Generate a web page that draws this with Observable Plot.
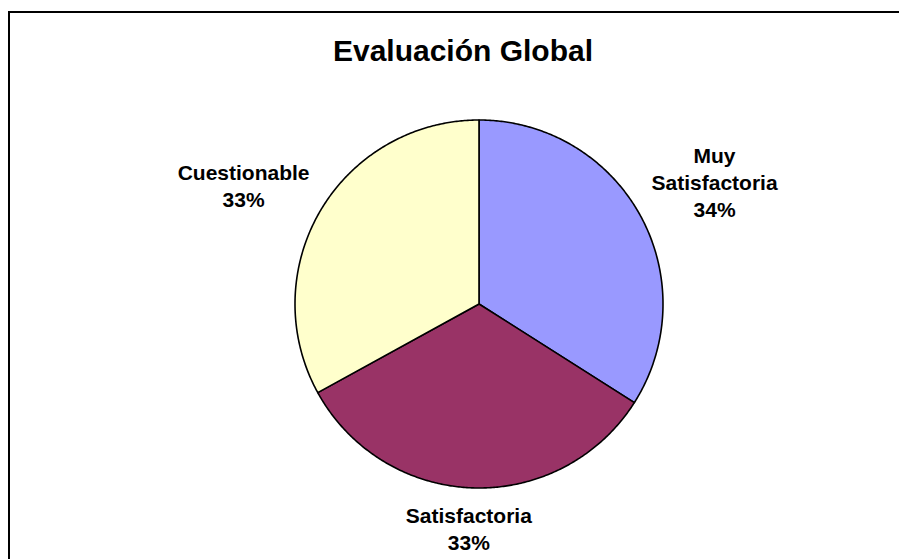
<!DOCTYPE html>
<html>
<head>
<meta charset="utf-8">
<script src="https://cdn.jsdelivr.net/npm/d3@7"></script>
<script src="https://cdn.jsdelivr.net/npm/@observablehq/plot@0.6"></script>
<style>
  html, body { margin: 0; padding: 0; background: #fff; overflow: hidden; width: 899px; height: 559px; }
  #frame { position: absolute; left: 8px; top: 11px; width: 1000px; height: 700px;
           border-left: 2px solid #000; border-top: 2px solid #000; }
  #title { position: absolute; left: 0; top: 36px; width: 926px; text-align: center;
           font: bold 30px/30px "Liberation Sans", Arial, sans-serif; color: #000; }
  #chart { position: absolute; left: 0; top: 80px; }
</style>
</head>
<body>
<div id="frame"></div>
<div id="title">Evaluación Global</div>
<div id="chart"></div>
<script>
// Overall evaluation shares (percent)
const categories = ["Muy Satisfactoria", "Satisfactoria", "Cuestionable"];
const percents = [34, 33, 33];
const labelNames = ["Muy\nSatisfactoria", "Satisfactoria", "Cuestionable"];
const sliceColors = ["#9999FF", "#993366", "#FFFFCC"];

const W = 899, H = 479;
const cx = 478.5, cy = 223.5, R = 184;
const FONT = 21, LINE = 27;
const fontFamily = '"Liberation Sans", Arial, sans-serif';

// Slice angles: start at 12 o'clock, clockwise, in the given order
const arcs = d3.pie().sort(null).value(d => d)(percents);

// Outline of each slice in unit-circle coordinates (y up)
const outline = [];
arcs.forEach((a, i) => {
  const name = categories[i];
  outline.push({name, x: 0, y: 0});
  const steps = Math.max(2, Math.ceil((a.endAngle - a.startAngle) / (Math.PI / 360)));
  for (let k = 0; k <= steps; ++k) {
    const t = a.startAngle + (a.endAngle - a.startAngle) * k / steps;
    outline.push({name, x: Math.sin(t), y: Math.cos(t)});
  }
  outline.push({name, x: 0, y: 0});
});

// Label blocks sit outside the rim, pushed outward along each slice's mid-angle
const ctx = document.createElement("canvas").getContext("2d");
ctx.font = `bold ${FONT}px ${fontFamily}`;
const clamp = v => Math.max(-1, Math.min(1, v));
const labels = arcs.map((a, i) => {
  const m = (a.startAngle + a.endAngle) / 2;
  const lines = labelNames[i].split("\n").concat([`${percents[i]}%`]);
  const halfW = d3.max(lines, s => ctx.measureText(s).width) / 2;
  const halfH = lines.length * LINE / 2;
  const s = Math.sin(m), c = Math.cos(m);
  const r0 = 1.07 * R;
  return {
    text: lines.join("\n"),
    x: (s * r0 + clamp(2 * s) * halfW) / R,
    y: (c * r0 + Math.sign(c) * Math.sqrt(Math.abs(c)) * halfH) / R
  };
});

const chart = Plot.plot({
  width: W,
  height: H,
  margin: 0,
  style: {background: "transparent", overflow: "visible"},
  x: {domain: [-1, 1], range: [cx - R, cx + R], axis: null},
  y: {domain: [-1, 1], range: [cy + R, cy - R], axis: null},
  color: {domain: categories, range: sliceColors},
  marks: [
    Plot.line(outline, {
      x: "x", y: "y", z: "name",
      fill: "name", stroke: "#000", strokeWidth: 1.6,
      strokeLinejoin: "round", curve: "linear"
    }),
    Plot.text(labels, {
      x: "x", y: "y", text: "text",
      fontSize: FONT, fontWeight: "bold", fontFamily,
      lineHeight: LINE / FONT, lineAnchor: "middle",
      textAnchor: "middle", fill: "#000"
    })
  ]
});
document.getElementById("chart").appendChild(chart);
</script>
</body>
</html>
